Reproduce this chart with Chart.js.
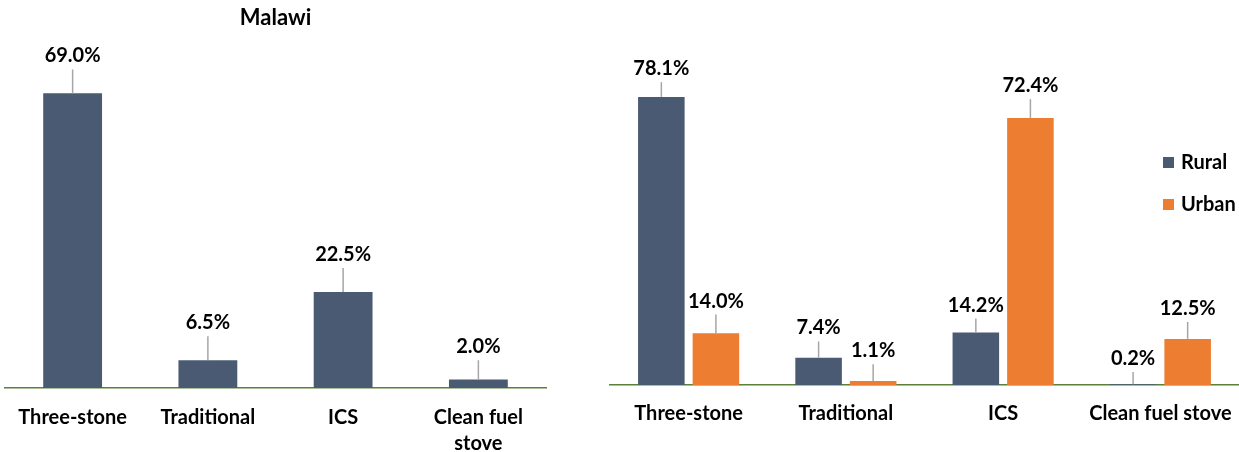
<!DOCTYPE html>
<html>
<head>
<meta charset="utf-8">
<script src="https://cdn.jsdelivr.net/npm/chart.js@4.4.1/dist/chart.umd.min.js"></script>
<style>
  html, body { margin: 0; padding: 0; background: #ffffff; }
  body { width: 1239px; height: 452px; position: relative; overflow: hidden; }
  #wrapL { position: absolute; left: 0; top: 0; width: 551px; height: 452px; }
  #wrapR { position: absolute; left: 600px; top: 0; width: 639px; height: 452px; }
</style>
</head>
<body>
<div id="wrapL"><canvas id="left"></canvas></div>
<div id="wrapR"><canvas id="right"></canvas></div>
<script>
// ---- data ----
const leftTitle = 'Malawi';
const leftCategories = ['Three-stone', 'Traditional', 'ICS', ['Clean fuel', 'stove']];
const rightCategories = ['Three-stone', 'Traditional', 'ICS', 'Clean fuel stove'];
const malawiValues = [69.0, 6.5, 22.5, 2.0];
const malawiErrors = [5.6, 5.6, 5.6, 4.5];
const seriesNames = ['Rural', 'Urban'];
const ruralValues = [78.1, 7.4, 14.2, 0.2];
const ruralErrors = [4.0, 4.4, 3.8, 3.3];
const urbanValues = [14.0, 1.1, 72.4, 12.5];
const urbanErrors = [5.1, 4.5, 5.1, 4.6];

// ---- styles ----
const C_RURAL = '#4a5a73';
const C_URBAN = '#ed7d31';
const C_AXIS = '#5a8039';
const C_ERR = '#a6a6a6';
const FONT = 'Lato, "Open Sans", sans-serif';
const FS = 20;

Chart.defaults.font.family = FONT;
Chart.defaults.color = '#000000';

const errorLabelPlugin = {
  id: 'errorLabels',
  afterDatasetsDraw(chart) {
    const ctx = chart.ctx;
    const y = chart.scales.y;
    chart.data.datasets.forEach((ds, di) => {
      const meta = chart.getDatasetMeta(di);
      meta.data.forEach((bar, i) => {
        const v = ds.data[i];
        const e = ds.errors[i];
        const yTop = y.getPixelForValue(v + e);
        ctx.save();
        ctx.strokeStyle = C_ERR;
        ctx.lineWidth = 1.5;
        ctx.beginPath();
        ctx.moveTo(bar.x, bar.y);
        ctx.lineTo(bar.x, yTop);
        ctx.stroke();
        ctx.fillStyle = '#000000';
        ctx.font = 'bold ' + FS + 'px ' + FONT;
        ctx.textAlign = 'center';
        ctx.textBaseline = 'alphabetic';
        ctx.fillText(v.toFixed(1) + '%', bar.x, yTop - 7);
        ctx.restore();
      });
    });
  }
};

const insideLegendPlugin = {
  id: 'insideLegend',
  afterDraw(chart) {
    const ctx = chart.ctx;
    const x0 = chart.width - 76;
    const rows = [163, 205];
    chart.data.datasets.forEach((ds, i) => {
      const cy = rows[i];
      ctx.save();
      ctx.fillStyle = ds.backgroundColor;
      ctx.fillRect(x0, cy - 6, 11, 11);
      ctx.fillStyle = '#000000';
      ctx.font = 'bold ' + FS + 'px ' + FONT;
      ctx.textAlign = 'left';
      ctx.textBaseline = 'middle';
      ctx.fillText(ds.label, x0 + 18, cy);
      ctx.restore();
    });
  }
};

function xScale(h, pad) {
  return {
    grid: { display: false, drawTicks: false },
    border: { display: true, color: C_AXIS, width: 1.5 },
    ticks: {
      color: '#000000',
      font: { size: FS, weight: 'bold', lineHeight: 1.3 },
      padding: pad,
      maxRotation: 0,
      autoSkip: false
    },
    afterFit(s) { s.height = h; s.paddingLeft = 0; s.paddingRight = 0; }
  };
}

new Chart(document.getElementById('left'), {
  type: 'bar',
  data: {
    labels: leftCategories,
    datasets: [{
      label: leftTitle,
      data: malawiValues,
      errors: malawiErrors,
      backgroundColor: C_RURAL,
      categoryPercentage: 1.0,
      barPercentage: 0.435
    }]
  },
  options: {
    responsive: true,
    maintainAspectRatio: false,
    animation: false,
    layout: { padding: { left: 5, right: 5, top: 0, bottom: 0 } },
    plugins: {
      legend: { display: false },
      tooltip: { enabled: false },
      title: {
        display: true,
        text: leftTitle,
        color: '#000000',
        font: { size: 22, weight: 'bold' },
        padding: { top: 5, bottom: 15 }
      }
    },
    scales: {
      x: xScale(64, 17),
      y: { display: false, min: 0, max: 80 }
    }
  },
  plugins: [errorLabelPlugin]
});

new Chart(document.getElementById('right'), {
  type: 'bar',
  data: {
    labels: rightCategories,
    datasets: [
      { label: seriesNames[0], data: ruralValues, errors: ruralErrors, backgroundColor: C_RURAL,
        categoryPercentage: 0.694, barPercentage: 0.853 },
      { label: seriesNames[1], data: urbanValues, errors: urbanErrors, backgroundColor: C_URBAN,
        categoryPercentage: 0.694, barPercentage: 0.853 }
    ]
  },
  options: {
    responsive: true,
    maintainAspectRatio: false,
    animation: false,
    layout: { padding: { left: 10, right: 0, top: 53, bottom: 0 } },
    plugins: {
      legend: { display: false },
      tooltip: { enabled: false }
    },
    scales: {
      x: xScale(67, 16),
      y: { display: false, min: 0, max: 90 }
    }
  },
  plugins: [errorLabelPlugin, insideLegendPlugin]
});
</script>
</body>
</html>
